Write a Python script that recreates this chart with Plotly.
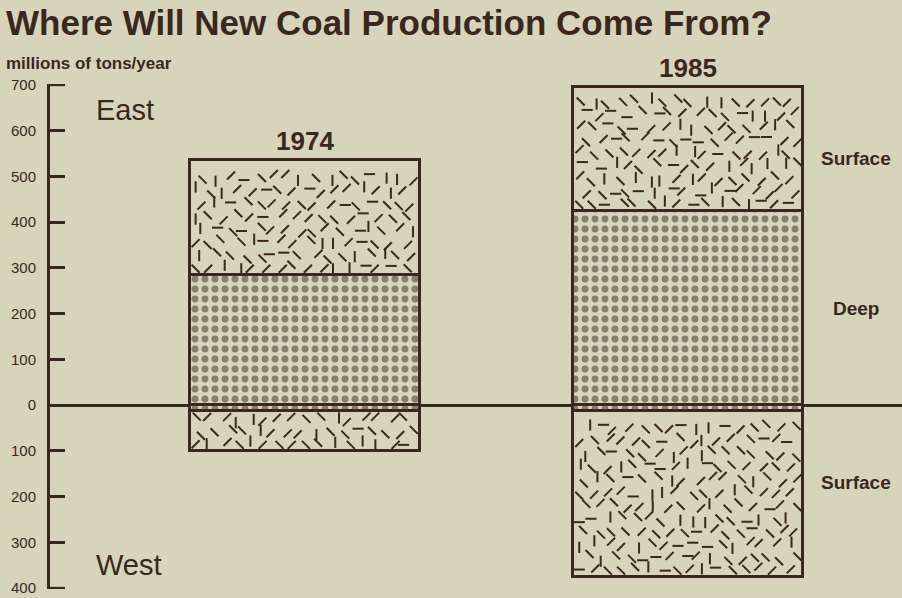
import plotly.graph_objects as go

# Coal production, millions of tons per year
years = ["1974", "1985"]
east_deep = [285, 425]
east_surface = [250, 270]
west_deep = [12, 12]
west_surface = [88, 363]

tick_vals = [-400, -300, -200, -100, 0, 100, 200, 300, 400, 500, 600, 700]
tick_text = ["400", "300", "200", "100", "0", "100", "200", "300", "400", "500", "600", "700"]

INK = "#3a2820"
BG = "#d6d4ba"
FONT = "Liberation Sans, Arial, sans-serif"

W, H = 902, 598
M_L, M_R, M_T, M_B = 50, 0, 84, 9
X_RANGE = [-0.664, 1.557]
Y_RANGE = [-402, 702]
BAR_W = 0.6

xpos = list(range(len(years)))

fig = go.Figure()

dots = dict(shape=".", fgcolor=INK, bgcolor=BG, size=10, solidity=0.38)
plain = dict(shape="", bgcolor=BG)

def bar(name, vals, pattern):
    return go.Bar(
        x=xpos, y=vals, width=BAR_W, name=name,
        marker=dict(color=BG, pattern=pattern, line=dict(color=INK, width=3)),
        hoverinfo="name+y", showlegend=False,
    )

fig.add_trace(bar("East deep", east_deep, dots))
fig.add_trace(bar("East surface", east_surface, plain))
fig.add_trace(bar("West deep", [-v for v in west_deep], dots))
fig.add_trace(bar("West surface", [-v for v in west_surface], plain))

# Scattered short dashes that texture the surface-mined blocks
px_per_x = (W - M_L - M_R) / (X_RANGE[1] - X_RANGE[0])
px_per_y = (H - M_T - M_B) / (Y_RANGE[1] - Y_RANGE[0])
symbols = ["line-ns", "line-ew", "line-ne", "line-nw", "line-ne", "line-nw"]

def h(i, j, k):
    v = (i * 73856093) ^ (j * 19349663) ^ (k * 83492791)
    return (v % 1009) / 1009.0

def dashes(xc, y0, y1, k):
    xs, ys, ss = [], [], []
    step_x, step_y, inset = 14.0, 13.0, 6
    left = (xc - BAR_W / 2) * px_per_x + inset
    right = (xc + BAR_W / 2) * px_per_x - inset
    lo = min(y0, y1) * px_per_y + inset
    hi = max(y0, y1) * px_per_y - inset
    j = 0
    yy = lo
    while yy <= hi:
        i = 0
        xx = left + (step_x / 2 if j % 2 else 0)
        while xx <= right:
            jx = (h(i, j, k) - 0.5) * 8
            jy = (h(j, i, k + 7) - 0.5) * 8
            px_ = min(max(xx + jx, left), right)
            py_ = min(max(yy + jy, lo), hi)
            xs.append(px_ / px_per_x)
            ys.append(py_ / px_per_y)
            ss.append(symbols[int(h(i + 3, j + 5, k + 11) * len(symbols)) % len(symbols)])
            xx += step_x
            i += 1
        yy += step_y
        j += 1
    return xs, ys, ss

tx, ty, ts = [], [], []
for k, xc in enumerate(xpos):
    for (a, b, kk) in [
        (east_deep[k], east_deep[k] + east_surface[k], k),
        (-west_deep[k], -(west_deep[k] + west_surface[k]), k + 20),
    ]:
        xs, ys, ss = dashes(xc, a, b, kk)
        tx += xs
        ty += ys
        ts += ss

fig.add_trace(go.Scatter(
    x=tx, y=ty, mode="markers", hoverinfo="skip", showlegend=False,
    marker=dict(symbol=ts, size=8, color=INK, line=dict(color=INK, width=2)),
))

annotations = []
tops = [e + s for e, s in zip(east_deep, east_surface)]
for k, yr in enumerate(years):
    annotations.append(dict(
        x=xpos[k], y=tops[k], xref="x", yref="y", text="<b>%s</b>" % yr,
        showarrow=False, yanchor="bottom", yshift=2,
        font=dict(size=26, color=INK, family=FONT),
    ))

side_x = 1.438
for txt, yv in [("Surface", 540), ("Deep", 212), ("Surface", -170)]:
    annotations.append(dict(
        x=side_x, y=yv, xref="x", yref="y", text="<b>%s</b>" % txt,
        showarrow=False, xanchor="center",
        font=dict(size=19, color=INK, family=FONT),
    ))

for txt, yv in [("East", 645), ("West", -350)]:
    annotations.append(dict(
        x=-0.549, y=yv, xref="x", yref="y", text=txt, showarrow=False,
        xanchor="left", font=dict(size=29, color=INK, family=FONT),
    ))

plot_w = W - M_L - M_R
plot_h = H - M_T - M_B
annotations.append(dict(
    x=(4 - M_L) / plot_w, y=1 + (M_T - 64) / plot_h, xref="paper", yref="paper",
    text="<b>millions of tons/year</b>", showarrow=False,
    xanchor="left", yanchor="middle",
    font=dict(size=17, color=INK, family=FONT),
))

# End ticks closing the axis bracket at the top and bottom of the scale
shapes = [
    dict(type="line", xref="paper", yref="y", xsizemode="pixel", xanchor=0,
         x0=0, x1=15, y0=v, y1=v, line=dict(color=INK, width=2.5))
    for v in (tick_vals[0], tick_vals[-1])
]

fig.update_layout(
    width=W, height=H,
    margin=dict(l=M_L, r=M_R, t=M_T, b=M_B),
    paper_bgcolor=BG, plot_bgcolor=BG,
    barmode="relative", bargap=0,
    title=dict(text="<b>Where Will New Coal Production Come From?</b>",
               x=6 / W, xref="container", xanchor="left",
               y=1 - 23 / H, yref="container", yanchor="middle",
               font=dict(size=35, color=INK, family=FONT)),
    xaxis=dict(range=X_RANGE, visible=False, fixedrange=True),
    yaxis=dict(range=Y_RANGE, tickvals=tick_vals, ticktext=tick_text,
               showgrid=False, showline=True, linecolor=INK, linewidth=3,
               ticks="inside", ticklen=15, tickwidth=2.5, tickcolor=INK,
               ticklabelstandoff=8,
               zeroline=True, zerolinecolor=INK, zerolinewidth=3,
               tickfont=dict(size=15, color=INK, family=FONT), fixedrange=True),
    annotations=annotations,
    shapes=shapes,
)

fig.write_html("out.html")
